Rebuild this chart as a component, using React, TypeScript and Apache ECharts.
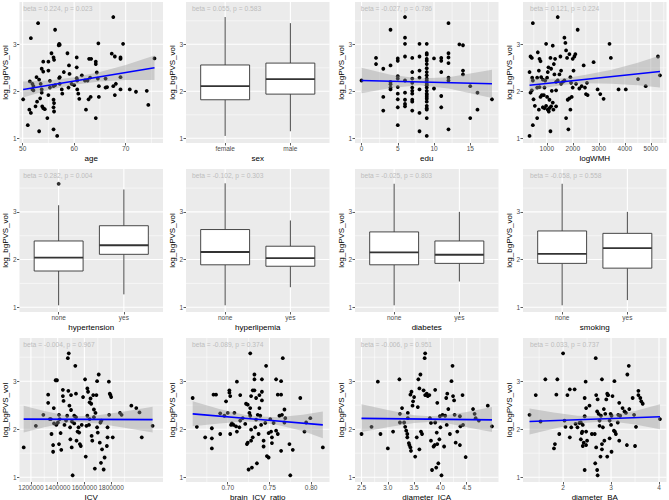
import React, { useEffect, useRef } from "react";
import * as echarts from "echarts";

const FONT = '"Liberation Sans", Arial, Helvetica, sans-serif';

// ---------------- data ----------------
const yTicks = [1, 2, 3];
const yMinor = [1.5, 2.5, 3.5];
const yTitle = "log_bgPVS_vol";

const betaTexts = [
  "beta = 0.224, p = 0.023",
  "beta = 0.055, p = 0.583",
  "beta = -0.027, p = 0.786",
  "beta = 0.121, p = 0.224",
  "beta = 0.282, p = 0.004",
  "beta = -0.102, p = 0.303",
  "beta = -0.025, p = 0.803",
  "beta = -0.058, p = 0.558",
  "beta = -0.004, p = 0.967",
  "beta = -0.089, p = 0.374",
  "beta = -0.006, p = 0.951",
  "beta = 0.033, p = 0.737",
];

// age
const ageTicks = [50, 60, 70];
const ageMinor = [55, 65, 75];
const ageData = [[53.0,3.45],[56.3,3.31],[51.6,3.13],[67.6,3.58],[57.1,3.01],[57.2,2.99],[57.0,2.98],[55.6,2.81],[56.0,2.72],[56.1,2.67],[58.7,2.81],[60.5,2.72],[64.7,3.02],[69.5,3.01],[67.3,2.80],[67.9,2.74],[69.0,2.72],[69.0,2.69],[62.9,2.69],[63.3,2.69],[64.2,2.63],[64.2,2.58],[54.0,2.63],[55.0,2.63],[53.7,2.48],[54.0,2.42],[55.0,2.44],[57.2,2.30],[58.0,2.41],[59.0,2.55],[60.5,2.51],[64.4,2.40],[60.5,2.28],[61.5,2.34],[62.1,2.23],[60.6,2.23],[59.1,2.37],[57.1,2.28],[55.3,2.22],[53.2,2.25],[52.7,2.30],[51.4,2.21],[51.9,2.16],[52.1,2.11],[52.1,2.02],[53.5,2.16],[53.7,2.04],[53.7,1.97],[55.3,2.08],[56.0,2.11],[56.3,2.13],[57.2,2.16],[57.6,2.04],[57.7,1.95],[58.9,2.08],[59.5,2.16],[60.0,2.13],[60.6,2.04],[60.8,1.95],[61.0,1.84],[62.6,2.23],[63.1,2.29],[64.6,2.27],[64.8,2.11],[64.8,1.88],[62.8,1.83],[63.2,1.88],[62.3,1.61],[64.2,1.43],[66.1,2.27],[66.1,2.08],[66.4,2.09],[67.6,2.11],[67.9,1.92],[69.0,2.30],[69.0,2.04],[70.8,2.04],[72.0,1.99],[74.1,2.01],[74.4,1.71],[75.6,2.70],[68.1,2.16],[50.1,1.83],[51.0,1.28],[51.3,1.61],[51.6,1.54],[52.5,1.68],[52.8,1.78],[53.2,1.15],[53.4,1.85],[53.8,1.68],[54.0,1.64],[54.3,1.62],[54.8,1.43],[55.0,1.92],[56.0,1.82],[56.1,1.75],[56.0,1.66],[56.1,1.57],[56.0,1.19],[56.7,1.05],[51.9,2.04]];
const ageFit = [[50.1, 2.04], [75.6, 2.5]];
const ageBandX = [50.1, 55, 60, 65, 70, 75.6];
const ageBandUp = [2.21, 2.23, 2.30, 2.41, 2.56, 2.76];
const ageBandLo = [1.87, 2.03, 2.14, 2.21, 2.24, 2.24];

// sex
const sexCats = ["female", "male"];
const sexBox = [[1.05, 1.82, 2.11, 2.56, 3.58], [1.15, 1.94, 2.26, 2.60, 3.45]];

// edu
const eduTicks = [0, 5, 10, 15];
const eduMinor = [2.5, 7.5, 12.5, 17.5];
const eduData = [[0,2.23],[2,2.71],[2,2.58],[3,2.48],[3,1.88],[3,1.59],[4,3.31],[4,2.55],[4,2.20],[4,2.15],[4,2.08],[4,2.04],[5,2.70],[5,2.65],[5,2.32],[5,2.27],[5,2.09],[5,1.95],[5,1.83],[5,1.66],[5,1.28],[6,3.58],[6,3.14],[6,3.01],[6,2.74],[6,2.23],[6,1.97],[6,1.82],[6,1.73],[6,1.68],[7,2.71],[7,2.41],[7,2.27],[7,2.18],[7,2.08],[7,2.01],[7,1.95],[7,1.82],[7,1.78],[7,1.59],[8,3.01],[8,2.74],[8,2.44],[8,2.29],[8,2.04],[8,1.54],[8,1.15],[9,3.01],[9,2.81],[9,2.78],[9,2.69],[9,2.65],[9,2.58],[9,2.49],[9,2.41],[9,2.34],[9,2.27],[9,2.23],[9,2.16],[9,2.13],[9,2.08],[9,2.01],[9,1.95],[9,1.92],[9,1.88],[9,1.84],[9,1.78],[9,1.69],[9,1.64],[9,1.61],[9,1.43],[9,1.05],[10,2.70],[10,2.06],[11,2.71],[11,2.65],[11,2.41],[11,1.90],[11,1.66],[12,3.45],[12,2.81],[12,2.72],[12,2.60],[12,2.29],[12,2.23],[12,1.19],[13.5,3.00],[14,2.98],[14,2.44],[14,2.36],[15,2.11],[15,1.43],[16,1.97],[16,1.61],[18,1.83]];
const eduFit = [[0, 2.23], [18, 2.16]];
const eduBandX = [0, 4, 8, 12, 18];
const eduBandUp = [2.50, 2.35, 2.27, 2.30, 2.46];
const eduBandLo = [1.96, 2.07, 2.13, 2.06, 1.86];

// logWMH
const wmhTicks = [1000, 2000, 3000, 4000, 5000];
const wmhMinor = [500, 1500, 2500, 3500, 4500, 5500];
const wmhData = [[336,2.41],[374,2.74],[425,2.71],[464,3.45],[438,2.29],[464,2.23],[374,1.97],[425,2.02],[490,1.83],[541,1.69],[464,1.28],[336,1.05],[630,2.08],[630,2.29],[655,2.83],[720,2.69],[759,2.64],[695,2.44],[784,2.30],[847,2.25],[759,1.88],[695,1.61],[630,1.43],[810,1.92],[886,1.92],[911,1.64],[974,3.01],[1012,1.88],[1038,2.41],[1064,2.51],[1077,1.57],[1102,1.64],[1141,2.71],[1166,2.48],[1192,2.01],[1230,2.97],[1230,1.76],[1256,1.61],[1141,1.15],[1271,2.58],[1320,2.69],[1294,2.36],[1358,2.20],[1358,1.68],[1421,3.58],[1421,2.23],[1486,2.36],[1524,2.74],[1550,2.44],[1614,2.20],[1678,3.14],[1716,3.03],[1742,2.87],[1742,1.43],[1780,2.71],[1805,1.82],[1831,1.19],[1870,2.79],[1870,1.85],[1908,2.30],[1934,2.18],[1908,1.61],[1959,1.88],[1997,2.08],[1997,2.69],[2061,2.74],[2099,2.79],[2029,2.44],[2125,2.16],[2188,3.31],[2252,2.06],[2341,2.11],[2418,2.55],[2469,2.08],[2508,1.94],[2546,2.18],[2571,1.92],[2801,2.62],[2955,2.04],[3057,1.94],[3185,1.84],[3413,3.01],[3465,2.71],[3761,2.04],[4040,2.04],[4511,2.26],[4805,2.11],[5277,2.74],[5354,2.34],[720,2.09],[911,2.08],[847,1.66],[974,1.69],[1102,1.82],[1038,1.61],[1166,1.68],[1012,2.29],[937,2.23],[1358,2.02],[1550,2.16],[1678,2.23]];
const wmhFit = [[336, 2.13], [5354, 2.42]];
const wmhBandX = [336, 1000, 1700, 2500, 3500, 4500, 5354];
const wmhBandUp = [2.27, 2.26, 2.28, 2.35, 2.46, 2.61, 2.76];
const wmhBandLo = [1.99, 2.08, 2.14, 2.17, 2.16, 2.13, 2.08];

// boxplots row 2
const ynCats = ["none", "yes"];
const htnBox = [[1.04, 1.76, 2.04, 2.39, 3.14], [1.27, 2.11, 2.30, 2.71, 3.47]];
const htnOutliers = [[1, 3.59]];
const hlpBox = [[1.04, 1.89, 2.16, 2.63, 3.60], [1.42, 1.86, 2.03, 2.28, 2.82]];
const dmBox = [[1.04, 1.89, 2.15, 2.58, 3.59], [1.54, 1.92, 2.10, 2.39, 3.00]];
const smkBox = [[1.04, 1.92, 2.12, 2.60, 3.59], [1.15, 1.82, 2.24, 2.55, 3.00]];

// ICV
const icvTicks = [1200000, 1400000, 1600000, 1800000];
const icvMinor = [1300000, 1500000, 1700000, 1900000];
const icvData = [[1146000,1.62],[1237000,2.07],[1293000,2.30],[1329000,2.72],[1329000,2.55],[1341000,2.21],[1349000,2.21],[1354000,1.90],[1371000,2.44],[1366000,1.67],[1366000,1.53],[1373000,2.12],[1385000,3.02],[1395000,3.02],[1390000,2.09],[1402000,2.14],[1410000,2.30],[1415000,2.21],[1410000,1.69],[1422000,1.92],[1427000,1.57],[1439000,2.82],[1439000,2.69],[1444000,2.59],[1451000,2.09],[1463000,2.18],[1471000,2.28],[1476000,3.48],[1483000,3.58],[1480000,2.80],[1488000,2.49],[1493000,2.04],[1500000,2.40],[1500000,2.71],[1495000,1.79],[1507000,2.16],[1505000,1.62],[1512000,1.04],[1524000,2.12],[1524000,2.28],[1532000,3.32],[1537000,2.74],[1537000,2.25],[1541000,1.76],[1549000,1.95],[1556000,2.04],[1561000,1.93],[1566000,1.69],[1573000,1.65],[1580000,2.09],[1590000,2.67],[1605000,3.04],[1610000,1.43],[1615000,2.07],[1622000,2.85],[1627000,2.78],[1622000,2.28],[1639000,2.56],[1639000,2.21],[1634000,2.09],[1646000,2.64],[1651000,2.53],[1654000,1.86],[1659000,1.76],[1666000,2.71],[1671000,2.41],[1671000,2.25],[1678000,1.18],[1683000,2.34],[1690000,2.71],[1695000,3.00],[1695000,2.04],[1700000,1.93],[1707000,3.14],[1715000,1.72],[1720000,2.14],[1727000,2.18],[1724000,1.30],[1732000,1.58],[1744000,1.16],[1751000,1.41],[1768000,1.65],[1773000,1.83],[1773000,2.04],[1783000,2.99],[1790000,2.74],[1795000,2.71],[1800000,2.67],[1812000,1.83],[1785000,2.30],[1866000,2.34],[1878000,2.30],[1951000,2.49],[1988000,2.44],[2012000,2.35],[2029000,1.83],[2110000,2.07]];
const icvFit = [[1146000, 2.21], [2110000, 2.2]];
const icvBandX = [1146000, 1300000, 1450000, 1550000, 1700000, 1900000, 2110000];
const icvBandUp = [2.49, 2.38, 2.29, 2.27, 2.29, 2.37, 2.47];
const icvBandLo = [1.93, 2.04, 2.13, 2.15, 2.12, 2.03, 1.93];

// brain_ICV_ratio
const ratioTicks = [0.7, 0.75, 0.8];
const ratioMinor = [0.675, 0.725, 0.775];
const ratioData = [[0.658,2.65],[0.663,2.05],[0.673,1.83],[0.681,1.81],[0.681,1.60],[0.681,2.02],[0.683,2.72],[0.686,2.72],[0.691,1.90],[0.691,2.33],[0.696,2.28],[0.698,2.58],[0.700,2.34],[0.702,2.81],[0.702,2.76],[0.703,2.69],[0.704,2.09],[0.703,1.90],[0.705,2.12],[0.707,2.09],[0.708,2.34],[0.710,2.06],[0.711,2.99],[0.711,1.95],[0.714,2.04],[0.715,2.71],[0.715,2.18],[0.718,2.23],[0.721,2.11],[0.722,2.53],[0.723,1.69],[0.724,2.51],[0.724,1.72],[0.726,2.34],[0.725,1.16],[0.727,3.58],[0.727,2.44],[0.727,2.28],[0.728,2.69],[0.728,1.99],[0.728,1.76],[0.729,1.20],[0.730,2.81],[0.730,1.83],[0.732,3.14],[0.732,3.04],[0.732,2.81],[0.733,2.04],[0.734,2.65],[0.734,2.20],[0.735,1.29],[0.736,2.30],[0.737,1.90],[0.738,2.71],[0.738,2.44],[0.739,2.28],[0.740,2.09],[0.741,3.04],[0.741,2.78],[0.741,2.60],[0.743,1.76],[0.743,1.64],[0.745,2.13],[0.746,3.32],[0.747,1.44],[0.749,1.41],[0.749,1.92],[0.751,2.21],[0.752,1.95],[0.753,1.71],[0.753,1.83],[0.755,2.13],[0.758,3.04],[0.758,1.97],[0.760,2.72],[0.760,1.90],[0.764,3.00],[0.764,2.72],[0.762,2.28],[0.764,1.55],[0.765,2.30],[0.766,3.48],[0.768,2.41],[0.768,2.14],[0.769,2.23],[0.774,1.69],[0.775,1.04],[0.778,1.57],[0.787,2.65],[0.792,1.95],[0.794,2.14],[0.799,2.23],[0.814,1.62]];
const ratioFit = [[0.658, 2.32], [0.814, 2.09]];
const ratioBandX = [0.658, 0.69, 0.72, 0.735, 0.76, 0.79, 0.814];
const ratioBandUp = [2.58, 2.42, 2.30, 2.27, 2.25, 2.30, 2.37];
const ratioBandLo = [2.06, 2.12, 2.16, 2.15, 2.09, 1.96, 1.81];

// diameter_ICA
const icaTicks = [2.5, 3.0, 3.5, 4.0, 4.5];
const icaMinor = [2.75, 3.25, 3.75, 4.25, 4.75];
const icaData = [[2.50,1.90],[2.69,2.05],[2.81,2.99],[2.86,1.90],[3.10,1.95],[3.00,1.60],[3.22,3.04],[3.23,2.14],[3.23,2.32],[3.27,2.44],[3.31,2.14],[3.33,2.05],[3.35,1.97],[3.37,1.90],[3.37,1.83],[3.38,2.34],[3.38,2.23],[3.40,1.71],[3.41,1.67],[3.43,1.62],[3.44,1.55],[3.43,2.72],[3.45,2.78],[3.47,2.49],[3.48,2.58],[3.50,2.67],[3.52,1.43],[3.55,1.83],[3.57,2.46],[3.58,3.04],[3.62,3.14],[3.60,2.85],[3.60,1.58],[3.63,1.95],[3.65,1.90],[3.68,2.81],[3.71,3.58],[3.70,3.48],[3.71,2.71],[3.74,2.74],[3.76,2.69],[3.79,2.71],[3.80,2.23],[3.82,2.13],[3.82,1.76],[3.84,1.15],[3.87,1.64],[3.89,1.67],[3.90,2.82],[3.90,2.14],[3.92,1.20],[3.93,1.93],[3.94,2.55],[3.94,1.69],[3.96,1.29],[3.98,1.79],[3.99,2.27],[4.00,2.04],[4.02,1.04],[4.04,2.30],[4.07,1.64],[4.09,2.28],[4.11,2.65],[4.12,2.09],[4.13,2.74],[4.15,2.42],[4.18,1.90],[4.21,3.00],[4.23,3.32],[4.24,2.69],[4.26,2.60],[4.27,2.30],[4.29,1.72],[4.32,1.95],[4.37,1.67],[4.37,2.27],[4.38,2.06],[4.42,2.71],[4.43,2.09],[4.48,1.42],[4.62,2.42],[4.65,2.32],[4.67,2.23],[4.73,2.18],[4.90,2.49],[4.98,2.06]];
const icaFit = [[2.5, 2.225], [4.98, 2.195]];
const icaBandX = [2.5, 3.0, 3.5, 3.8, 4.1, 4.5, 4.98];
const icaBandUp = [2.52, 2.40, 2.29, 2.27, 2.29, 2.36, 2.46];
const icaBandLo = [1.94, 2.04, 2.13, 2.15, 2.13, 2.04, 1.94];

// diameter_BA
const baTicks = [2, 3, 4];
const baMinor = [1.5, 2.5, 3.5];
const baData = [[1.30,2.30],[1.43,2.71],[1.53,2.16],[1.63,3.04],[1.81,1.60],[1.83,1.69],[1.86,2.72],[1.88,3.04],[1.92,1.90],[2.00,3.58],[2.03,2.18],[2.05,2.05],[2.09,2.71],[2.14,2.83],[2.14,1.83],[2.17,2.04],[2.24,2.83],[2.26,2.11],[2.30,2.04],[2.34,2.13],[2.37,2.14],[2.37,1.79],[2.39,1.92],[2.40,1.95],[2.41,2.09],[2.41,1.65],[2.43,1.72],[2.45,2.65],[2.45,2.27],[2.45,1.15],[2.47,2.99],[2.48,2.44],[2.48,1.95],[2.50,1.76],[2.48,1.67],[2.55,2.49],[2.60,1.90],[2.66,1.90],[2.67,1.29],[2.68,3.48],[2.69,2.71],[2.69,1.62],[2.71,2.37],[2.71,1.15],[2.72,2.62],[2.72,1.04],[2.74,2.32],[2.76,2.18],[2.76,2.07],[2.78,1.43],[2.79,2.28],[2.81,3.04],[2.81,1.69],[2.81,1.58],[2.83,2.04],[2.85,2.42],[2.86,1.76],[2.88,2.32],[2.90,2.62],[2.92,2.74],[2.93,2.71],[2.92,1.43],[2.94,2.71],[2.97,1.81],[2.97,2.18],[2.99,2.32],[3.00,2.09],[3.01,1.53],[3.01,2.28],[3.03,2.69],[3.06,1.97],[3.07,3.00],[3.08,1.95],[3.10,1.90],[3.14,2.14],[3.15,2.30],[3.17,2.55],[3.17,1.76],[3.19,2.28],[3.24,2.44],[3.28,2.37],[3.31,2.34],[3.33,1.67],[3.34,3.14],[3.37,3.32],[3.38,2.42],[3.45,2.65],[3.48,2.30],[3.50,1.65],[3.52,2.05],[3.57,2.80],[3.57,2.71],[3.61,2.65],[3.63,2.58],[3.66,2.53],[4.02,2.21]];
const baFit = [[1.3, 2.16], [4.02, 2.26]];
const baBandX = [1.3, 1.8, 2.3, 2.7, 3.1, 3.5, 4.02];
const baBandUp = [2.43, 2.35, 2.28, 2.27, 2.31, 2.38, 2.52];
const baBandLo = [1.89, 2.01, 2.12, 2.15, 2.15, 2.10, 2.00];

// ---------------- layout ----------------
const COL_LEFT = [19.5, 186, 355, 523];
const COL_W = 143.5;
const ROW_TOP = [2, 169, 338];
const ROW_H = [141, 143, 144];
const BETA_X = [23.3, 192, 360.7, 530];
const Y_MIN = 0.9;
const Y_MAX = 3.9;

const fmtInt = (v: number) => String(Math.round(v));

type Panel = any;
const panels: Panel[] = [
  { kind: "scatter", xName: "age", xMin: 49.39, xMax: 77.25, ticks: ageTicks, minor: ageMinor, pts: ageData, fit: ageFit, bx: ageBandX, bu: ageBandUp, bl: ageBandLo, fmt: fmtInt },
  { kind: "box", xName: "sex", cats: sexCats, stats: sexBox },
  { kind: "scatter", xName: "edu", xMin: -0.9, xMax: 18.9, ticks: eduTicks, minor: eduMinor, pts: eduData, fit: eduFit, bx: eduBandX, bu: eduBandUp, bl: eduBandLo, fmt: fmtInt },
  { kind: "scatter", xName: "logWMH", xMin: 85, xMax: 5605, ticks: wmhTicks, minor: wmhMinor, pts: wmhData, fit: wmhFit, bx: wmhBandX, bu: wmhBandUp, bl: wmhBandLo, fmt: fmtInt },
  { kind: "box", xName: "hypertension", cats: ynCats, stats: htnBox, outliers: htnOutliers },
  { kind: "box", xName: "hyperlipemia", cats: ynCats, stats: hlpBox },
  { kind: "box", xName: "diabetes", cats: ynCats, stats: dmBox },
  { kind: "box", xName: "smoking", cats: ynCats, stats: smkBox },
  { kind: "scatter", xName: "ICV", xMin: 1114600, xMax: 2187800, ticks: icvTicks, minor: icvMinor, pts: icvData, fit: icvFit, bx: icvBandX, bu: icvBandUp, bl: icvBandLo, fmt: fmtInt },
  { kind: "scatter", xName: "brain_ICV_ratio", xMin: 0.65, xMax: 0.822, ticks: ratioTicks, minor: ratioMinor, pts: ratioData, fit: ratioFit, bx: ratioBandX, bu: ratioBandUp, bl: ratioBandLo, fmt: (v: number) => v.toFixed(2) },
  { kind: "scatter", xName: "diameter_ICA", xMin: 2.376, xMax: 5.104, ticks: icaTicks, minor: icaMinor, pts: icaData, fit: icaFit, bx: icaBandX, bu: icaBandUp, bl: icaBandLo, fmt: (v: number) => v.toFixed(1) },
  { kind: "scatter", xName: "diameter_BA", xMin: 1.164, xMax: 4.156, ticks: baTicks, minor: baMinor, pts: baData, fit: baFit, bx: baBandX, bu: baBandUp, bl: baBandLo, fmt: fmtInt },
];

function buildOption() {
  const grid: any[] = [];
  const xAxis: any[] = [];
  const yAxis: any[] = [];
  const series: any[] = [];
  const graphic: any[] = [];

  panels.forEach((p, i) => {
    const col = i % 4;
    const row = Math.floor(i / 4);
    grid.push({
      left: COL_LEFT[col], top: ROW_TOP[row], width: COL_W, height: ROW_H[row],
      show: true, backgroundColor: "#EBEBEB", borderWidth: 0, containLabel: false,
      outerBoundsMode: "none",
    });
    const isBox = p.kind === "box";
    const xMin = isBox ? 0.4 : p.xMin;
    const xMax = isBox ? 2.6 : p.xMax;
    const xT = isBox ? [1, 2] : p.ticks;
    const fmt = isBox ? (v: number) => p.cats[Math.round(v) - 1] ?? "" : p.fmt;
    xAxis.push({
      gridIndex: i, type: "value", min: xMin, max: xMax,
      axisLine: { show: false, onZero: false },
      axisTick: { show: true, length: 2.5, lineStyle: { color: "#333333", width: 0.8 }, customValues: xT },
      axisLabel: {
        show: true, customValues: xT, margin: 1.5, color: "#4D4D4D", fontSize: 6.5, fontFamily: FONT,
        formatter: fmt, hideOverlap: false, showMinLabel: true, showMaxLabel: true,
      },
      splitLine: { show: false },
      name: p.xName, nameLocation: "middle", nameGap: 11, nameMoveOverlap: false,
      nameTextStyle: { color: "#000000", fontSize: 8, fontFamily: FONT },
    });
    yAxis.push({
      gridIndex: i, type: "value", min: Y_MIN, max: Y_MAX,
      axisLine: { show: false, onZero: false },
      axisTick: { show: true, length: 2.5, lineStyle: { color: "#333333", width: 0.8 }, customValues: yTicks },
      axisLabel: {
        show: true, customValues: yTicks, margin: 3, color: "#4D4D4D", fontSize: 6.5, fontFamily: FONT,
        formatter: fmtInt, hideOverlap: false, showMinLabel: true, showMaxLabel: true,
      },
      splitLine: { show: false },
      name: yTitle, nameLocation: "middle", nameGap: 10, nameRotate: 90, nameMoveOverlap: false,
      nameTextStyle: { color: "#000000", fontSize: 8, fontFamily: FONT },
    });

    // grid lines: [x, y, major, orient]
    const xMid = (xMin + xMax) / 2;
    const lines: number[][] = [];
    yMinor.forEach((v) => lines.push([xMid, v, 0, 1]));
    if (!isBox) p.minor.forEach((v: number) => lines.push([v, 2, 0, 0]));
    yTicks.forEach((v) => lines.push([xMid, v, 1, 1]));
    xT.forEach((v: number) => lines.push([v, 2, 1, 0]));
    series.push({
      type: "custom", xAxisIndex: i, yAxisIndex: i, z: 1, silent: true,
      encode: { x: 0, y: 1 },
      data: lines,
      renderItem: (params: any, api: any) => {
        const cs = params.coordSys;
        const pt = api.coord([api.value(0), api.value(1)]);
        const w = api.value(2) ? 1.1 : 0.55;
        if (api.value(3) === 0) {
          return { type: "line", shape: { x1: pt[0], y1: cs.y, x2: pt[0], y2: cs.y + cs.height }, style: { stroke: "#FFFFFF", lineWidth: w } };
        }
        return { type: "line", shape: { x1: cs.x, y1: pt[1], x2: cs.x + cs.width, y2: pt[1] }, style: { stroke: "#FFFFFF", lineWidth: w } };
      },
    });

    if (isBox) {
      series.push({
        type: "custom", xAxisIndex: i, yAxisIndex: i, z: 3, silent: true,
        encode: { x: 0, y: [1, 2, 3, 4, 5] },
        data: p.stats.map((s: number[], k: number) => [k + 1, ...s]),
        renderItem: (params: any, api: any) => {
          const x = api.value(0);
          const lo = api.coord([x, api.value(1)]);
          const q1 = api.coord([x, api.value(2)]);
          const md = api.coord([x, api.value(3)]);
          const q3 = api.coord([x, api.value(4)]);
          const hi = api.coord([x, api.value(5)]);
          const l = api.coord([x - 0.375, api.value(3)])[0];
          const r = api.coord([x + 0.375, api.value(3)])[0];
          const st = { stroke: "#333333", lineWidth: 0.9 };
          return {
            type: "group",
            children: [
              { type: "line", shape: { x1: lo[0], y1: lo[1], x2: q1[0], y2: q1[1] }, style: st },
              { type: "line", shape: { x1: q3[0], y1: q3[1], x2: hi[0], y2: hi[1] }, style: st },
              { type: "rect", shape: { x: l, y: q3[1], width: r - l, height: q1[1] - q3[1] }, style: { fill: "#FFFFFF", stroke: "#333333", lineWidth: 0.9 } },
              { type: "line", shape: { x1: l, y1: md[1], x2: r, y2: md[1] }, style: { stroke: "#333333", lineWidth: 1.9 } },
            ],
          };
        },
      });
      if (p.outliers) {
        series.push({
          type: "scatter", xAxisIndex: i, yAxisIndex: i, z: 4, silent: true,
          data: p.outliers, symbolSize: 3.8, itemStyle: { color: "#000000" },
        });
      }
    } else {
      series.push({
        type: "scatter", xAxisIndex: i, yAxisIndex: i, z: 3, silent: true,
        data: p.pts, symbolSize: 3.8, itemStyle: { color: "#000000", opacity: 1 },
      });
      const bx = p.bx, bu = p.bu, bl = p.bl;
      series.push({
        type: "custom", xAxisIndex: i, yAxisIndex: i, z: 4, silent: true,
        encode: { x: 0, y: [1, 2] },
        data: bx.map((x: number, k: number) => [x, bu[k], bl[k]]),
        renderItem: (params: any, api: any) => {
          if (params.dataIndex !== 0) return null;
          const pts: number[][] = [];
          for (let k = 0; k < bx.length; k++) pts.push(api.coord([bx[k], bu[k]]));
          for (let k = bx.length - 1; k >= 0; k--) pts.push(api.coord([bx[k], bl[k]]));
          return { type: "polygon", shape: { points: pts, smooth: 0 }, style: { fill: "rgba(153,153,153,0.4)" } };
        },
      });
      series.push({
        type: "line", xAxisIndex: i, yAxisIndex: i, z: 5, silent: true,
        data: p.fit, symbol: "none", lineStyle: { color: "#0000FF", width: 1.6 },
      });
    }

    graphic.push({
      type: "text", x: BETA_X[col], y: ROW_TOP[row] + 6, z: 100, silent: true,
      style: { text: betaTexts[i], fill: "#BDBDBD", fontSize: 6.7, fontFamily: FONT, verticalAlign: "middle", align: "left" },
    });
  });

  return { animation: false, backgroundColor: "#FFFFFF", grid, xAxis, yAxis, series, graphic };
}

export default function App() {
  const ref = useRef<HTMLDivElement>(null);
  useEffect(() => {
    if (!ref.current) return;
    const chart = echarts.init(ref.current, undefined, { renderer: "svg" });
    chart.setOption(buildOption() as any);
    return () => chart.dispose();
  }, []);
  return <div ref={ref} style={{ position: "absolute", left: 0, top: 0, width: 669, height: 500 }} />;
}
